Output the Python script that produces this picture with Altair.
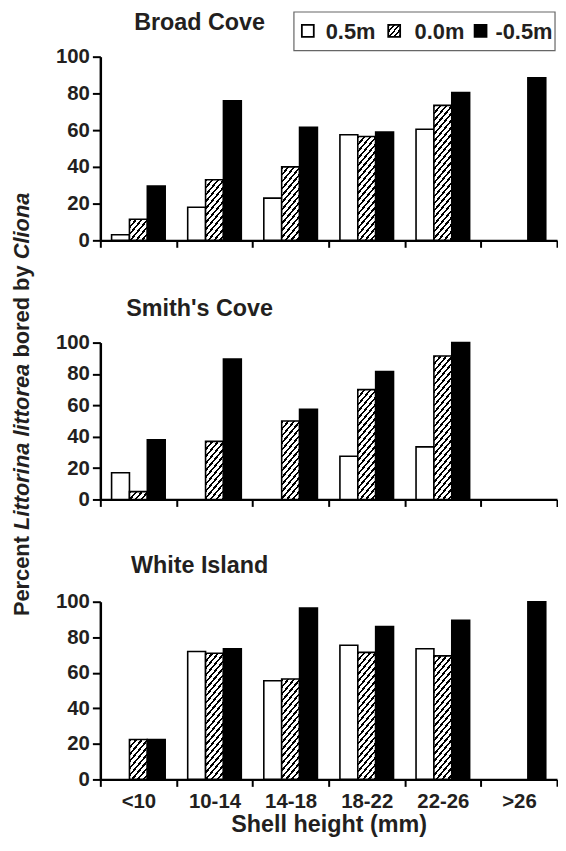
import altair as alt

# ---------------- data ----------------
SIZES = ["<10", "10-14", "14-18", "18-22", "22-26", ">26"]
DEPTHS = ["0.5m", "0.0m", "-0.5m"]
SITES = ["Broad Cove", "Smith's Cove", "White Island"]

BROAD_05 = [3, 18, 23, 57.5, 60.5, None]
BROAD_00 = [11.5, 33, 40, 56.5, 73.5, None]
BROAD_M05 = [29.5, 76, 61.5, 59, 80.5, 88.5]

SMITH_05 = [17, None, None, 27.5, 33.5, None]
SMITH_00 = [5, 37, 50, 70, 91.5, None]
SMITH_M05 = [38, 89.5, 57.5, 81.5, 100, None]

WHITE_05 = [None, 72, 55.5, 75.5, 73.5, None]
WHITE_00 = [22.5, 71, 56.5, 71.5, 69.5, None]
WHITE_M05 = [22.5, 73.5, 96.5, 86, 89.5, 100]

Y_TICKS = [0, 20, 40, 60, 80, 100]
X_TITLE = "Shell height (mm)"
Y_TITLE_PARTS = ["Percent", "Littorina littorea", "bored by", "Cliona"]
Y_TITLE_STYLES = ["normal", "italic", "normal", "italic"]

SERIES = {
    "Broad Cove": [BROAD_05, BROAD_00, BROAD_M05],
    "Smith's Cove": [SMITH_05, SMITH_00, SMITH_M05],
    "White Island": [WHITE_05, WHITE_00, WHITE_M05],
}

# ---------------- layout / style ----------------
FONT = "Liberation Sans"
TXT = "#231f20"
PLOT_W = 460
HEIGHTS = [185, 158, 179]
SPACING = 103
OFF_PAD = 0.63
BAR_W = PLOT_W / len(SIZES) / (3 + 2 * OFF_PAD)
Y_FS = 22
# offsets along the rotated y title (Arial-bold advance widths at 22px)
Y_TITLE_OFFS = [0, 86.8, 260.4, 359.4]


def hatch(w, h, k=1.2, period=7.0, frac=0.38):
    span = k * w + h
    c = span / ((k * w) ** 2 + h ** 2)
    dt = period / span
    stops = []
    j = 0
    while j * dt < 1:
        a = j * dt
        b = min(a + frac * dt, 1.0)
        e = min((j + 1) * dt, 1.0)
        stops += [
            {"offset": round(a, 5), "color": "black"},
            {"offset": round(b, 5), "color": "black"},
            {"offset": round(b, 5), "color": "white"},
            {"offset": round(e, 5), "color": "white"},
        ]
        j += 1
    return {"gradient": "linear", "x1": 0, "y1": 0,
            "x2": round(c * k * w, 5), "y2": round(c * h, 5), "stops": stops}


def records(si):
    site = SITES[si]
    out = []
    for di, depth in enumerate(DEPTHS):
        for sz, v in zip(SIZES, SERIES[site][di]):
            if v is None:
                continue
            if di == 0:
                paint = "white"
            elif di == 1:
                paint = hatch(BAR_W, v / 100 * HEIGHTS[si])
            else:
                paint = "black"
            out.append({"site": site, "size": sz, "depth": depth, "pct": v, "paint": paint})
    return out


def panel(si, last):
    H = HEIGHTS[si]
    bars = alt.Chart(alt.Data(values=records(si))).mark_bar(
        stroke="black", strokeWidth=1.6
    ).encode(
        x=alt.X("size:N", scale=alt.Scale(domain=SIZES, paddingInner=0, paddingOuter=0),
                axis=alt.Axis(tickBand="extent", labels=last, labelAngle=0,
                              title=X_TITLE if last else None,
                              tickSize=7, tickWidth=2, domainWidth=2.2,
                              labelFontSize=20.5, labelPadding=5,
                              titleFontSize=23.5, titlePadding=1)),
        xOffset=alt.XOffset("depth:N", scale=alt.Scale(domain=DEPTHS, paddingInner=0, paddingOuter=OFF_PAD)),
        y=alt.Y("pct:Q", scale=alt.Scale(domain=[0, 100], nice=False),
                axis=alt.Axis(values=Y_TICKS, title=None, tickSize=8, tickWidth=2,
                              domainWidth=2.5, labelFontSize=20.5, labelPadding=3, grid=False)),
        fill=alt.Fill("paint:N", scale=None),
    )
    title_y = [-34, -34, -36][si]
    ttl = alt.Chart(alt.Data(values=[{"label": SITES[si]}])).mark_text(
        font=FONT, fontSize=23.5, fontWeight="bold", color=TXT, align="center", baseline="middle"
    ).encode(text="label:N", x=alt.value(100), y=alt.value(title_y))
    layers = [bars, ttl]

    if si == 0:
        box = alt.Chart(alt.Data(values=[{}])).mark_rect(
            fillOpacity=0, stroke="#666666", strokeWidth=1.2
        ).encode(x=alt.value(195), x2=alt.value(458), y=alt.value(-45), y2=alt.value(-6))
        layers.append(box)
        sym_x = [203, 290, 377]
        txt_x = [227, 316.5, 398]
        fills = ["white", hatch(12, 12, period=6.0), "black"]
        for i, d in enumerate(DEPTHS):
            sym = alt.Chart(alt.Data(values=[{}])).mark_rect(
                fill=fills[i], stroke="black", strokeWidth=1.8
            ).encode(x=alt.value(sym_x[i]), x2=alt.value(sym_x[i] + 12),
                     y=alt.value(-32), y2=alt.value(-20))
            lab = alt.Chart(alt.Data(values=[{"label": d}])).mark_text(
                font=FONT, fontSize=22, fontWeight="bold", color=TXT, align="left", baseline="middle"
            ).encode(text="label:N", x=alt.value(txt_x[i]), y=alt.value(-25))
            layers += [sym, lab]

    if si == 1:
        y0 = 275.5
        for part, style, off in zip(Y_TITLE_PARTS, Y_TITLE_STYLES, Y_TITLE_OFFS):
            t = alt.Chart(alt.Data(values=[{"label": part}])).mark_text(
                font=FONT, fontSize=Y_FS, fontWeight="bold", fontStyle=style, color=TXT,
                angle=270, align="left", baseline="middle"
            ).encode(text="label:N", x=alt.value(-79), y=alt.value(y0 - off))
            layers.append(t)

    return alt.layer(*layers).properties(width=PLOT_W, height=H)


chart = alt.vconcat(
    panel(0, False), panel(1, False), panel(2, True),
    spacing=SPACING, bounds="flush"
).properties(
    padding={"left": 2, "top": 0, "right": 0, "bottom": 2}
).configure_view(stroke=None).configure_axis(
    labelFont=FONT, titleFont=FONT, labelFontWeight="bold", titleFontWeight="bold",
    labelColor=TXT, titleColor=TXT, tickColor="black", domainColor="black"
)

chart.save("out.html", embed_options={"renderer": "svg", "actions": False})
